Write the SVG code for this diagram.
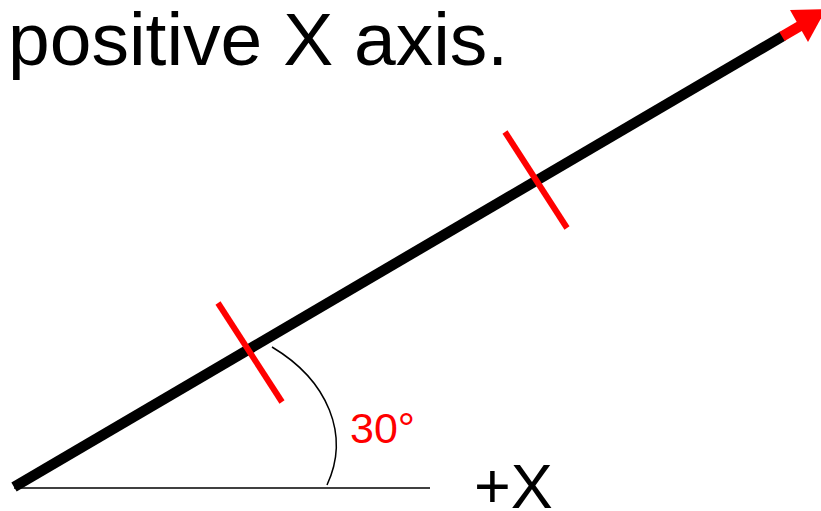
<svg xmlns="http://www.w3.org/2000/svg" width="821" height="511" viewBox="0 0 821 511">
  <style>
    .txt { font-family: "Liberation Sans", Arial, sans-serif; }
    .thin { stroke: #000; stroke-width: 1.5; fill: none; }
    .tick { stroke: #ff0000; stroke-width: 6; }
  </style>
  <rect width="821" height="511" fill="#fff"/>
  <g id="title">
    <text class="txt" x="8" y="65" font-size="75" fill="#000">positive X axis.</text>
  </g>
  <g id="connectors">
    <line id="xaxis" class="thin" x1="14" y1="488" x2="430" y2="488"/>
    <path id="angle-arc" class="thin" d="M272,347 A181,128 0 0 1 327,485"/>
    <line id="vector" x1="14" y1="487" x2="783" y2="36" stroke="#000" stroke-width="10.5"/>
    <line id="vector-tip" x1="782" y1="36.6" x2="800" y2="26" stroke="#ff0000" stroke-width="10.5"/>
    <polygon id="arrowhead" points="790,10 826,9 808,42" fill="#ff0000"/>
    <line id="tick1" class="tick" x1="218" y1="303" x2="282" y2="402"/>
    <line id="tick2" class="tick" x1="505" y1="132" x2="567" y2="228"/>
  </g>
  <g id="angle-label">
    <text class="txt" x="350" y="443" font-size="43" fill="#ff0000">30°</text>
  </g>
  <g id="axis-label">
    <text class="txt" x="474" y="508" font-size="63" fill="#000">+X</text>
  </g>
</svg>
